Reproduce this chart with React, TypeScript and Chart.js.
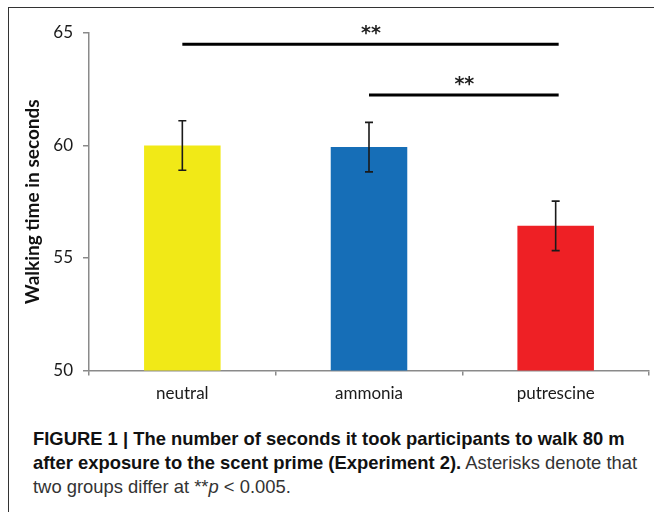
import React, { useEffect, useRef } from "react";
import { Chart, registerables } from "chart.js";

Chart.register(...registerables);

const categories = ["neutral", "ammonia", "putrescine"];
const means = [60.0, 59.93, 56.43];
const errors = [1.1, 1.1, 1.1];
const barColors = ["#F1E917", "#166EB7", "#EE2025"];
const yTicks = [50, 55, 60, 65];
const sigPairs: [number, number][] = [
  [0, 2],
  [1, 2],
];
const sigLevels = [64.5, 62.25];
const sigLabels = ["**", "**"];

const overlay = {
  id: "overlay",
  afterDatasetsDraw(chart: any) {
    const ctx = chart.ctx;
    const xs = chart.scales.x;
    const ys = chart.scales.y;
    ctx.save();
    ctx.strokeStyle = "#1a1a1a";
    ctx.lineWidth = 1.6;
    means.forEach((m, i) => {
      const cx = xs.getPixelForValue(i);
      const yt = ys.getPixelForValue(m + errors[i]);
      const yb = ys.getPixelForValue(m - errors[i]);
      ctx.beginPath();
      ctx.moveTo(cx, yt);
      ctx.lineTo(cx, yb);
      ctx.moveTo(cx - 4, yt);
      ctx.lineTo(cx + 4, yt);
      ctx.moveTo(cx - 4, yb);
      ctx.lineTo(cx + 4, yb);
      ctx.stroke();
    });
    ctx.strokeStyle = "#000";
    ctx.lineWidth = 3;
    ctx.fillStyle = "#222";
    ctx.font = "bold 19px 'DejaVu Sans'";
    ctx.textAlign = "center";
    ctx.textBaseline = "alphabetic";
    sigPairs.forEach(([a, b], k) => {
      const x1 = xs.getPixelForValue(a);
      const x2 = xs.getPixelForValue(b);
      const yy = ys.getPixelForValue(sigLevels[k]);
      ctx.beginPath();
      ctx.moveTo(x1, yy);
      ctx.lineTo(x2 + 3, yy);
      ctx.stroke();
      ctx.fillText(sigLabels[k], (x1 + x2) / 2 + 2, yy - 5);
    });
    ctx.restore();
  },
};

export default function App() {
  const ref = useRef<HTMLCanvasElement | null>(null);
  useEffect(() => {
    if (!ref.current) return;
    const chart = new Chart(ref.current, {
      type: "bar",
      data: {
        labels: categories,
        datasets: [
          {
            data: means,
            backgroundColor: barColors,
            borderWidth: 0,
            barPercentage: 0.41,
            categoryPercentage: 1,
          },
        ],
      },
      options: {
        animation: false,
        responsive: false,
        devicePixelRatio: 1,
        layout: { padding: { left: 0, top: 33, right: 5, bottom: 0 } },
        plugins: {
          legend: { display: false },
          tooltip: { enabled: false },
        },
        scales: {
          x: {
            offset: true,
            grid: {
              offset: true,
              drawOnChartArea: false,
              drawTicks: true,
              tickLength: 5,
              color: "#8a8a8a",
              lineWidth: 1.5,
            },
            border: { color: "#8a8a8a", width: 1.5 },
            ticks: {
              color: "#1a1a1a",
              padding: 8,
              font: { family: "Lato", size: 17 },
            },
            afterFit: (s: any) => {
              s.height = 49.5;
            },
          },
          y: {
            min: 50,
            max: 65,
            afterBuildTicks: (s: any) => {
              s.ticks = yTicks.map((v) => ({ value: v }));
            },
            grid: {
              drawOnChartArea: false,
              drawTicks: true,
              tickLength: 6,
              color: "#8a8a8a",
              lineWidth: 1.5,
            },
            border: { color: "#8a8a8a", width: 1.5 },
            ticks: {
              color: "#1a1a1a",
              padding: 10,
              font: { family: "Lato", size: 17 },
            },
            title: {
              display: true,
              text: "Walking time in seconds",
              color: "#111",
              font: { family: "Lato", size: 19, weight: "bold" },
              padding: { top: 21, bottom: 0 },
            },
            afterFit: (s: any) => {
              s.width = 89;
            },
          },
        },
      },
      plugins: [overlay],
    });
    return () => chart.destroy();
  }, []);

  return (
    <div
      style={{
        position: "absolute",
        left: 0,
        top: 0,
        width: 654,
        height: 512,
        overflow: "hidden",
        background: "#fff",
      }}
    >
      <div
        style={{
          position: "absolute",
          left: 8,
          top: 7,
          width: 700,
          height: 600,
          borderTop: "1px solid #333",
          borderLeft: "1px solid #333",
        }}
      />
      <canvas
        ref={ref}
        width={654}
        height={420}
        style={{ position: "absolute", left: 0, top: 0, width: 654, height: 420 }}
      />
      <div
        style={{
          position: "absolute",
          left: 33,
          top: 427,
          fontFamily: "'Liberation Sans', Arial, sans-serif",
          fontSize: 18.4,
          lineHeight: "24px",
          color: "#111",
          whiteSpace: "nowrap",
        }}
      >
        <b>FIGURE 1 | The number of seconds it took participants to walk 80 m</b>
        <br />
        <b>after exposure to the scent prime (Experiment 2).</b>
        <span style={{ color: "#333" }}> Asterisks denote that</span>
        <br />
        <span style={{ color: "#333" }}>
          two groups differ at **<i>p</i> &lt; 0.005.
        </span>
      </div>
    </div>
  );
}
